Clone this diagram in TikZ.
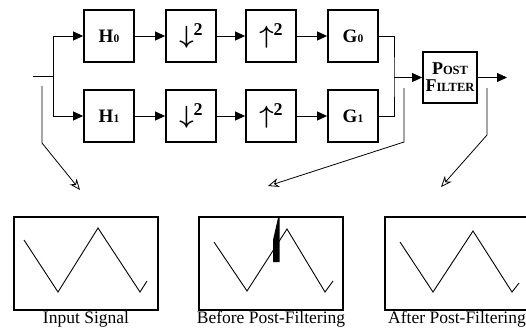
\documentclass[tikz,border=0pt]{standalone}
\usepackage{fontspec}
\setmainfont{Liberation Serif}
\usetikzlibrary{arrows.meta}

% index digit set small on the baseline, as in H0, G1
\newcommand{\idx}[1]{{\fontsize{11.5}{11.5}\selectfont #1}}
% rate-change symbols
\newcommand{\rate}[1]{\raisebox{-2pt}{\fontsize{24}{24}\selectfont\boldmath$#1$}\raisebox{6pt}{\fontsize{18}{18}\selectfont\bfseries 2}}

\tikzset{
  blk/.style={draw, line width=1.8pt, minimum width=50pt, minimum height=52pt,
    inner sep=0pt, font=\bfseries\fontsize{19}{19}\selectfont},
  flow/.style={line width=0.9pt, -{Triangle[length=10pt,width=9pt]}},
  wire/.style={line width=0.9pt},
  pointer/.style={line width=0.8pt, -{Stealth[open,length=11pt,width=9pt]}},
  panel/.style={draw, line width=1.2pt, minimum width=144pt, minimum height=93pt, inner sep=0pt},
  wave/.style={line width=0.9pt, line join=miter},
  caption/.style={font=\fontsize{17.5}{18}\selectfont, anchor=base, inner sep=0pt},
}

\begin{document}
\begin{tikzpicture}[x=1pt, y=-1pt]
\useasboundingbox (0,0) rectangle (526,333);

% analysis / synthesis branches
\node[blk] (h0) at (109,36) {H\idx{0}};
\node[blk] (d0) at (191,36) {\rate{\downarrow}};
\node[blk] (u0) at (271,36) {\rate{\uparrow}};
\node[blk] (g0) at (353,36) {G\idx{0}};

\node[blk] (h1) at (109,116) {H\idx{1}};
\node[blk] (d1) at (191,116) {\rate{\downarrow}};
\node[blk] (u1) at (271,116) {\rate{\uparrow}};
\node[blk] (g1) at (353,116) {G\idx{1}};

\node[blk, minimum width=54pt, minimum height=51pt, align=center,
  font=\bfseries\fontsize{18}{17}\selectfont] (pf) at (450,77.5)
  {P{\fontsize{12.5}{12.5}\selectfont OST}\\F{\fontsize{12.5}{12.5}\selectfont ILTER}};

% input split
\coordinate (src) at (33,76);
\coordinate (split) at (53,76);
\draw[wire] (src) -- (split);
\draw[flow] (split) |- (h0.west);
\draw[flow] (split) |- (h1.west);

\draw[flow] (h0) -- (d0);
\draw[flow] (d0) -- (u0);
\draw[flow] (u0) -- (g0);
\draw[flow] (h1) -- (d1);
\draw[flow] (d1) -- (u1);
\draw[flow] (u1) -- (g1);

% recombination and post filter
\coordinate (merge) at (394,77.5);
\draw[wire] (g0.east) -| (merge) |- (g1.east);
\draw[flow] (merge) -- (pf.west);
\coordinate (out) at (507,77.5);
\draw[flow] (pf.east) -- (out);

% signal panels
\node[panel] (sig1) at (86,263.5) {};
\node[panel] (sig2) at (271,263.5) {};
\node[panel] (sig3) at (457,263.5) {};

\draw[wave] (24,240) -- (58,292) -- (98,228) -- (140,292) -- (147,281);
\draw[wave] (214,242) -- (247,291) -- (287,229) -- (325,292) -- (333,281);
\fill (278,218) -- (279.5,218) -- (279.5,262) -- (273,262) -- (273,240) -- cycle;
\draw[wave] (400,242) -- (433,292) -- (473,231) -- (512,292) -- (519,283);

\node[caption] (cap1) at (86,323) {Input Signal};
\node[caption] (cap2) at (271,323) {Before Post-Filtering};
\node[caption] (cap3) at (457,323) {After Post-Filtering};

% probe pointers
\coordinate (a1) at (42,86);
\coordinate (b1) at (42,143);
\coordinate (c1) at (80,190);
\draw[pointer] (a1) -- (b1) -- (c1);

\coordinate (a2) at (404,88);
\coordinate (b2) at (404,142);
\coordinate (c2) at (268,186);
\draw[pointer] (a2) -- (b2) -- (c2);

\coordinate (a3) at (487,88);
\coordinate (b3) at (487,135);
\coordinate (c3) at (441,187);
\draw[pointer] (a3) -- (b3) -- (c3);
\end{tikzpicture}
\end{document}
